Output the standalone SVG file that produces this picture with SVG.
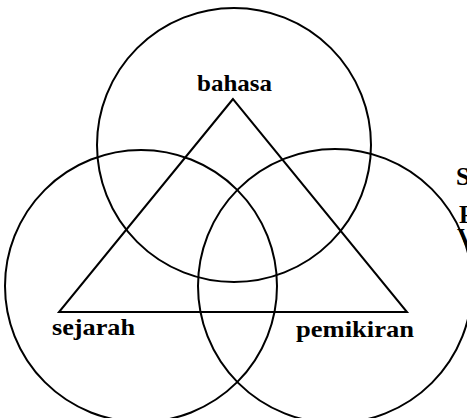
<svg xmlns="http://www.w3.org/2000/svg" width="467" height="418" viewBox="0 0 467 418">
<style>
.c{fill:none;stroke:#000;stroke-width:2}
.t{font-family:"Liberation Serif","Times New Roman",serif;font-weight:bold;font-size:23px;fill:#000}
</style>
<rect width="467" height="418" fill="#fff"/>
<g id="connectors">
<polygon class="c" points="233,99 59,312 407,312"/>
</g>
<g id="bahasa-node">
<circle class="c" cx="234" cy="145" r="137"/>
<text class="t" x="197" y="91" textLength="75" lengthAdjust="spacingAndGlyphs">bahasa</text>
</g>
<g id="sejarah-node">
<circle class="c" cx="141" cy="286" r="136"/>
<text class="t" x="52" y="335" textLength="83" lengthAdjust="spacingAndGlyphs">sejarah</text>
</g>
<g id="pemikiran-node">
<circle class="c" cx="335" cy="286" r="137"/>
<text class="t" x="296" y="337" textLength="118" lengthAdjust="spacingAndGlyphs">pemikiran</text>
</g>
<g id="side-text">
<text class="t" x="456" y="185" style="font-size:25px">S</text>
<text class="t" x="459" y="223" style="font-size:25px">P</text>
<text class="t" x="457" y="246" style="font-size:25px">V</text>
</g>
</svg>
